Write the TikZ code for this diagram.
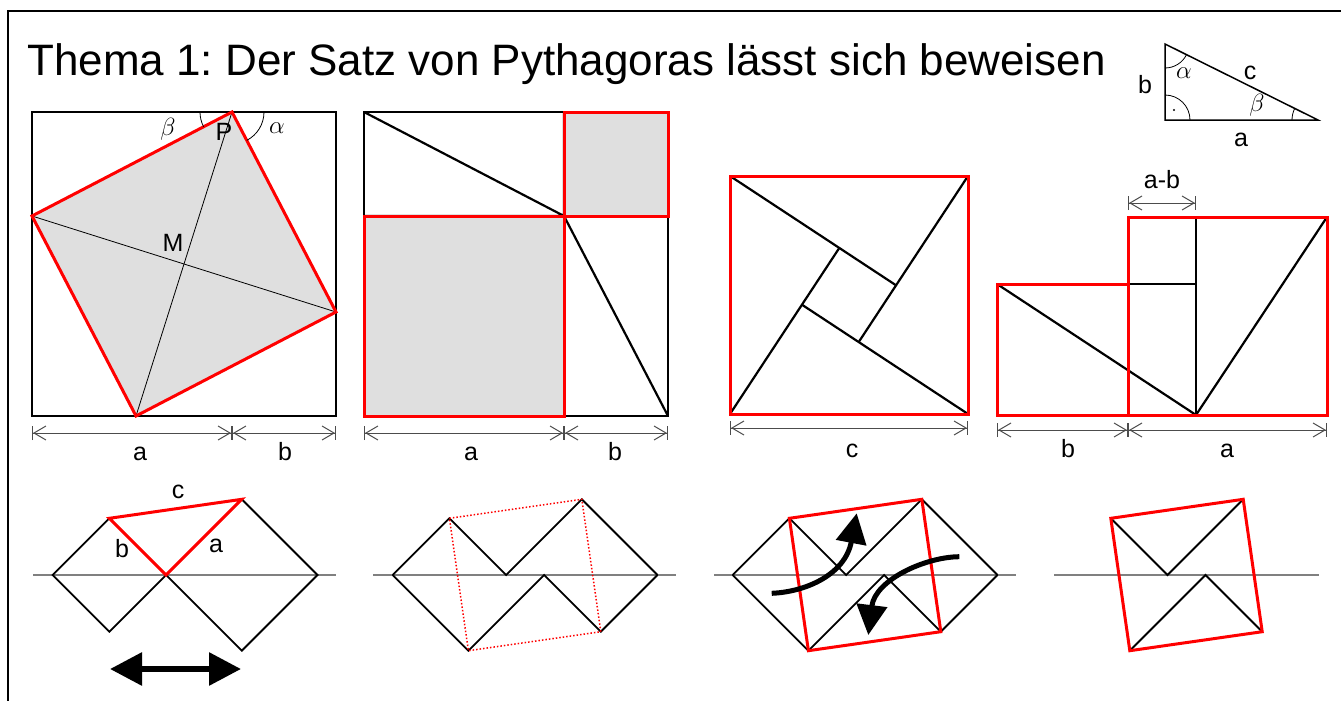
\documentclass[tikz,border=0pt]{standalone}
\usepackage{fontspec}
\setmainfont{Liberation Sans}
\usetikzlibrary{arrows.meta}
\frenchspacing

\begin{document}
\begin{tikzpicture}[x=1pt,y=1pt,
frame/.style={line width=2.5pt},
sq/.style={line width=2.2pt},
redsq/.style={draw=red, line width=3pt},
thin/.style={line width=0.8pt},
tri/.style={line width=1.5pt},
dim/.style={black!70, line width=1pt, {Bar[width=14pt]Straight Barb[length=12pt,width=14pt]}-{Straight Barb[length=12pt,width=14pt]Bar[width=14pt]}},
lbl/.style={font=\fontsize{25}{28}\selectfont, inner sep=0pt},
grk/.style={font=\fontsize{29}{30}\selectfont, inner sep=0pt},
axis/.style={gray, line width=2pt},
zig/.style={line width=1.8pt},
bigarrow/.style={line width=5pt, -{Triangle[length=30pt,width=30pt]}}
]
\useasboundingbox (0,0) rectangle (1341,-701);
\draw[frame] (8,-710) -- (8,-11) -- (1350,-11);
\node[anchor=base west, inner sep=0pt, font=\fontsize{44}{46}\selectfont] (title) at (27,-76) {Thema 1: Der Satz von Pythagoras lässt sich beweisen};

% small triangle top right
\coordinate (tT) at (1165,-44);
\coordinate (tO) at (1165,-120);
\coordinate (tE) at (1318,-120);
\draw[tri] (tT) -- (tO) -- (tE) -- cycle;
\draw[thin] (tO) ++(25,0) arc[start angle=0, end angle=90, radius=25];
\fill (1174,-110) circle (1.2);
\draw[thin] (tT) ++(0,-24) arc[start angle=270, end angle=333.6, radius=24];
\draw[thin] (tE) ++(-26,0) arc[start angle=180, end angle=153.6, radius=26];
\node[lbl, anchor=base] (tb) at (1145,-93) {b};
\node[lbl, anchor=base] (ta) at (1241,-146) {a};
\node[lbl, anchor=base] (tc) at (1250,-80) {c};
\node[grk] (tal) at (1184,-73) {$\alpha$};
\node[grk] (tbe) at (1257,-105) {$\beta$};

% first square
\coordinate (P) at (232,-112);
\coordinate (R) at (336,-312);
\coordinate (Q) at (136,-416);
\coordinate (L) at (32,-216);
\fill[gray!25] (P) -- (R) -- (Q) -- (L) -- cycle;
\draw[thin] (P) -- (Q) (L) -- (R);
\draw[sq] (32,-112) rectangle (336,-416);
\draw[redsq] (P) -- (R) -- (Q) -- (L) -- cycle;
\draw[thin] (P) ++(-32,0) arc[start angle=180, end angle=207.5, radius=32];
\draw[thin] (P) ++(32,0) arc[start angle=0, end angle=-62.5, radius=32];
\node[lbl, anchor=base] (M) at (173,-251) {M};
\node[lbl, anchor=base] (Pl) at (224,-140) {P};
\node[grk] (be) at (168,-129) {$\beta$};
\node[grk] (al) at (277,-128) {$\alpha$};
\draw[dim] (32,-433) -- (232,-433);
\draw[dim] (232,-433) -- (336,-433);
\node[lbl, anchor=base] at (140,-460) {a};
\node[lbl, anchor=base] at (285,-460) {b};

% second square
\draw[sq] (364,-112) rectangle (668,-416);
\draw[sq] (364,-112) -- (564,-216) (564,-112) -- (564,-416) (364,-216) -- (668,-216);
\draw[sq] (564,-216) -- (668,-416);
\draw[redsq, fill=gray!25] (564,-112) rectangle (668,-216);
\draw[redsq, fill=gray!25] (364,-216) rectangle (564,-416);
\draw[dim] (364,-433) -- (564,-433);
\draw[dim] (564,-433) -- (668,-433);
\node[lbl, anchor=base] at (471,-460) {a};
\node[lbl, anchor=base] at (615,-460) {b};

% third square
\coordinate (TL) at (730,-176);
\coordinate (TR) at (968,-176);
\coordinate (BR) at (968,-414);
\coordinate (BL) at (730,-414);
\draw[sq] (TL) -- (896.2,-285.4);
\draw[sq] (TR) -- (858.6,-342.2);
\draw[sq] (BR) -- (801.8,-304.6);
\draw[sq] (BL) -- (839.4,-247.8);
\draw[redsq] (TL) -- (TR) -- (BR) -- (BL) -- cycle;
\draw[dim] (730,-428) -- (968,-428);
\node[lbl, anchor=base] at (852,-457) {c};

% fourth figure
\draw[sq] (1196,-217) -- (1196,-415) (1128,-284) -- (1196,-284);
\draw[sq] (997,-284) -- (1196,-415) -- (1327,-217);
\draw[redsq] (997,-284) rectangle (1128,-415);
\draw[redsq] (1128,-217) rectangle (1327,-415);
\draw[dim] (1128,-203) -- (1196,-203);
\node[lbl, anchor=base] at (1162,-188) {a-b};
\draw[dim] (997,-430) -- (1128,-430);
\draw[dim] (1128,-430) -- (1327,-430);
\node[lbl, anchor=base] at (1068,-457) {b};
\node[lbl, anchor=base] at (1227,-457) {a};

% bottom row
\draw[axis] (33,-575) -- (336,-575);
\begin{scope}[shift={(52.7,-575)}]
\draw[zig] (0,0) -- (56.7,56.7) -- (113.4,0) -- (56.7,-56.7) -- cycle;
\draw[zig] (113.4,0) -- (189.1,75.7) -- (264.8,0) -- (189.1,-75.7) -- cycle;
\draw[redsq] (56.7,56.7) -- (113.4,0) -- (189.1,75.7) -- cycle;
\end{scope}
\node[lbl, anchor=base] at (178,-498) {c};
\node[lbl, anchor=base] at (122,-557) {b};
\node[lbl, anchor=base] at (216,-552) {a};
\draw[line width=6pt, {Triangle[length=32pt,width=32pt]}-{Triangle[length=32pt,width=32pt]}] (110,-669) -- (241,-669);

\draw[axis] (373,-575) -- (676,-575);
\draw[axis] (714,-575) -- (1016,-575);
\foreach \dx in {392.7,732.7} {
\begin{scope}[shift={(\dx,-575)}]
\draw[zig] (0,0) -- (56.7,56.7) -- (113.4,0) -- (189.1,75.7) -- (264.8,0);
\draw[zig] (0,0) -- (75.7,-75.7) -- (151.4,0) -- (208.1,-56.7) -- (264.8,0);
\end{scope}
}
\begin{scope}[shift={(392.7,-575)}]
\draw[red, line width=1.5pt, dotted] (56.7,56.7) -- (189.1,75.7) -- (208.1,-56.7) -- (75.7,-75.7) -- cycle;
\end{scope}
\begin{scope}[shift={(732.7,-575)}]
\draw[redsq] (56.7,56.7) -- (189.1,75.7) -- (208.1,-56.7) -- (75.7,-75.7) -- cycle;
\end{scope}
\draw[bigarrow] (771.7,-593.3) .. controls (805,-592) and (845,-575) .. (856.7,-513.3);
\draw[bigarrow] (959.3,-556.7) .. controls (925,-557) and (875,-580) .. (868.3,-635);

\draw[axis] (1054,-575) -- (1319,-575);
\begin{scope}[shift={(1054.1,-575)}]
\draw[zig] (56.7,56.7) -- (113.4,0) -- (189.1,75.7);
\draw[zig] (75.7,-75.7) -- (151.4,0) -- (208.1,-56.7);
\draw[redsq] (56.7,56.7) -- (189.1,75.7) -- (208.1,-56.7) -- (75.7,-75.7) -- cycle;
\end{scope}
\end{tikzpicture}
\end{document}
